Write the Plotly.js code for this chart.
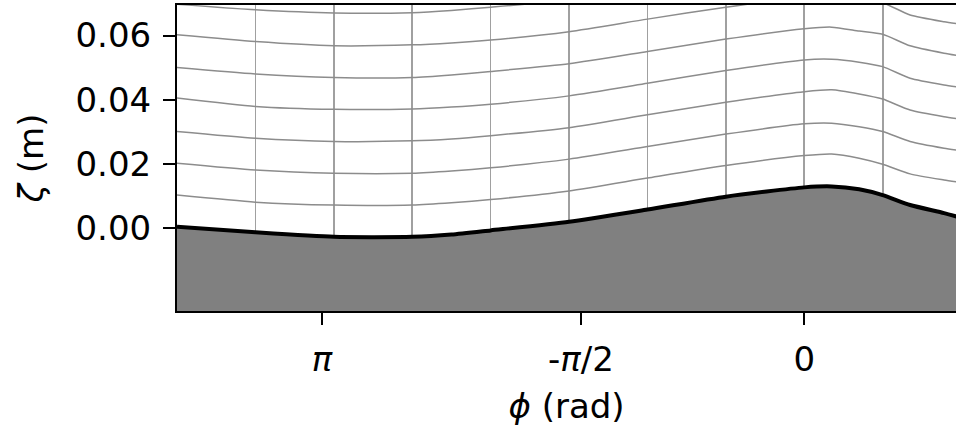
<!DOCTYPE html>
<html>
<head>
<meta charset="utf-8">
<script src="https://cdn.plot.ly/plotly-3.0.1.min.js"></script>
<style>html,body{margin:0;padding:0;overflow:hidden;background:#fff}</style>
</head>
<body>
<div id="chart" style="width:956px;height:431px"></div>
<script>
// Sample positions along phi (rad)
const phi = [-3.1416, -2.7489, -2.3562, -1.9635, -1.7671, -1.5708, -1.1781, -0.7854, -0.3927, 0.0, 0.1374, 0.2749, 0.3927, 0.5301, 0.7000, 0.7854];
// Bottom (bed) elevation, m
const zetaBed = [0.0004, -0.0013, -0.0027, -0.0027, -0.0020, -0.0007, 0.0020, 0.0058, 0.0098, 0.0127, 0.0130, 0.0121, 0.0103, 0.0072, 0.0047, 0.0032];
// Terrain-following coordinate levels, m
const zetaLevel1 = [0.0103, 0.0081, 0.0072, 0.0072, 0.0079, 0.0089, 0.0116, 0.0156, 0.0195, 0.0226, 0.0231, 0.0218, 0.0199, 0.0169, 0.0150, 0.0142];
const zetaLevel2 = [0.0202, 0.0181, 0.0171, 0.0171, 0.0178, 0.0188, 0.0215, 0.0254, 0.0293, 0.0325, 0.0327, 0.0316, 0.0301, 0.0270, 0.0249, 0.0241];
const zetaLevel3 = [0.0301, 0.0280, 0.0270, 0.0272, 0.0278, 0.0288, 0.0313, 0.0353, 0.0392, 0.0425, 0.0431, 0.0418, 0.0402, 0.0368, 0.0347, 0.0339];
const zetaLevel4 = [0.0405, 0.0379, 0.0370, 0.0371, 0.0377, 0.0386, 0.0412, 0.0451, 0.0491, 0.0524, 0.0526, 0.0517, 0.0503, 0.0467, 0.0446, 0.0438];
const zetaLevel5 = [0.0500, 0.0480, 0.0469, 0.0469, 0.0477, 0.0488, 0.0512, 0.0550, 0.0589, 0.0621, 0.0626, 0.0614, 0.0604, 0.0568, 0.0545, 0.0536];
const zetaLevel6 = [0.0602, 0.0581, 0.0568, 0.0571, 0.0577, 0.0586, 0.0612, 0.0651, 0.0688, 0.0720, 0.0725, 0.0714, 0.0702, 0.0664, 0.0643, 0.0635];
const zetaLevel7 = [0.0697, 0.0680, 0.0670, 0.0671, 0.0678, 0.0688, 0.0711, 0.0750, 0.0789, 0.0820, 0.0826, 0.0814, 0.0801, 0.0764, 0.0742, 0.0733];
const levels = [zetaLevel1, zetaLevel2, zetaLevel3, zetaLevel4, zetaLevel5, zetaLevel6, zetaLevel7];
// Grid lines of constant phi
const gridPhi = [-2.7489, -2.3562, -1.9635, -1.5708, -1.1781, -0.7854, -0.3927, 0.0, 0.3927];
// Axis ticks
const xTickVals = [-2.416, -1.119, 0.0];
const xTickText = ['<i>π</i>', '-<i>π</i>/2', '0'];
const yTickVals = [0.00, 0.02, 0.04, 0.06];
const xLimits = [-3.1416, 0.76];
const yLimits = [-0.0258, 0.0695];

const traces = [];
levels.forEach(lv => {
  traces.push({x: phi, y: lv, mode: 'lines', line: {color: '#8c8c8c', width: 1.5, shape: 'spline', smoothing: 0.6}, hoverinfo: 'skip', showlegend: false});
});
traces.push({x: phi, y: phi.map(() => yLimits[0]), mode: 'lines', line: {width: 0, color: 'rgba(0,0,0,0)'}, hoverinfo: 'skip', showlegend: false});
traces.push({x: phi, y: zetaBed, mode: 'lines', fill: 'tonexty', fillcolor: '#808080', line: {color: '#000000', width: 4, shape: 'spline', smoothing: 0.6}, hoverinfo: 'skip', showlegend: false});

const font = {family: 'DejaVu Sans, sans-serif', size: 34, color: '#000'};
const layout = {
  width: 956, height: 431,
  margin: {l: 177, r: 0, t: 5, b: 120},
  paper_bgcolor: '#fff', plot_bgcolor: '#fff',
  font: font,
  showlegend: false,
  xaxis: {
    range: xLimits, showgrid: false, zeroline: false,
    showline: true, linecolor: '#000', linewidth: 2, mirror: true,
    ticks: 'outside', ticklen: 12, tickwidth: 2, tickcolor: '#000',
    tickmode: 'array', tickvals: xTickVals, ticktext: xTickText,
    ticklabelstandoff: 5,
    minor: {tickmode: 'array', tickvals: gridPhi, showgrid: true, gridcolor: '#a0a0a0', gridwidth: 1.7, ticks: ''},
    title: {text: '<i>ϕ</i> (rad)', font: font, standoff: 16}
  },
  yaxis: {
    range: yLimits, showgrid: false, zeroline: false,
    showline: true, linecolor: '#000', linewidth: 2, mirror: false,
    ticks: 'outside', ticklen: 12, tickwidth: 2, tickcolor: '#000',
    tickmode: 'array', tickvals: yTickVals, tickformat: '.2f',
    ticklabelstandoff: 5,
    title: {text: '<i>ζ</i> (m)', font: font, standoff: 22}
  }
};
Plotly.newPlot('chart', traces, layout, {staticPlot: true, displayModeBar: false});
</script>
</body>
</html>
